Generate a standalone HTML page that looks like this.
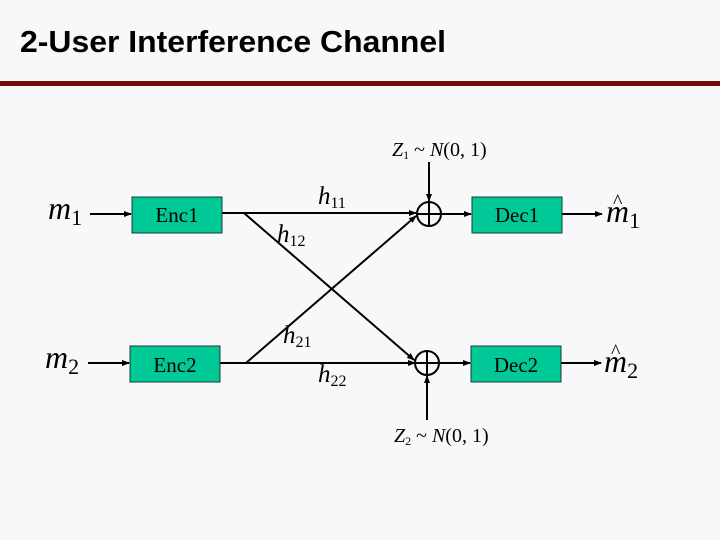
<!DOCTYPE html>
<html><head><meta charset="utf-8"><style>
html,body{margin:0;padding:0;background:#f8f8fa;}
svg{display:block;}
</style></head><body>
<svg width="720" height="540" viewBox="0 0 720 540" xmlns="http://www.w3.org/2000/svg">
<defs><marker id="a" markerWidth="8" markerHeight="8" refX="7" refY="4" orient="auto" markerUnits="userSpaceOnUse"><path d="M0,1 L8,4 L0,7 Z" fill="#000"/></marker></defs>
<rect width="720" height="540" fill="#f8f8fa"/>
<text x="20" y="52" font-family="Liberation Sans, sans-serif" font-weight="bold" font-size="31" fill="#000" textLength="426" lengthAdjust="spacingAndGlyphs">2-User Interference Channel</text>
<rect x="0" y="81" width="720" height="5" fill="#750808"/>
<g stroke="#000" stroke-width="2" fill="none">
<line x1="90" y1="214" x2="131" y2="214" marker-end="url(#a)"/>
<line x1="88" y1="363" x2="129" y2="363" marker-end="url(#a)"/>
<line x1="222" y1="213" x2="416" y2="213" marker-end="url(#a)"/>
<line x1="220" y1="363" x2="415" y2="363" marker-end="url(#a)"/>
<line x1="244" y1="213" x2="414" y2="360" marker-end="url(#a)"/>
<line x1="246" y1="363" x2="416" y2="216" marker-end="url(#a)"/>
<circle cx="429" cy="214" r="12"/>
<circle cx="427" cy="363" r="12"/>
<line x1="417" y1="214" x2="441" y2="214"/><line x1="429" y1="202" x2="429" y2="226"/>
<line x1="415" y1="363" x2="439" y2="363"/><line x1="427" y1="351" x2="427" y2="375"/>
<line x1="429" y1="162" x2="429" y2="201" marker-end="url(#a)"/>
<line x1="427" y1="420" x2="427" y2="376" marker-end="url(#a)"/>
<line x1="441" y1="214" x2="471" y2="214" marker-end="url(#a)"/>
<line x1="439" y1="363" x2="470" y2="363" marker-end="url(#a)"/>
<line x1="562" y1="214" x2="602" y2="214" marker-end="url(#a)"/>
<line x1="561" y1="363" x2="601" y2="363" marker-end="url(#a)"/>
</g>
<g fill="#00c896" stroke="#1a3a30" stroke-width="1">
<rect x="132" y="197" width="90" height="36"/>
<rect x="130" y="346" width="90" height="36"/>
<rect x="472" y="197" width="90" height="36"/>
<rect x="471" y="346" width="90" height="36"/>
</g>
<g font-family="Liberation Serif, serif" font-size="21" fill="#000" text-anchor="middle">
<text x="177" y="222">Enc1</text><text x="175" y="372">Enc2</text>
<text x="517" y="222">Dec1</text><text x="516" y="372">Dec2</text>
</g>
<g font-family="Liberation Serif, serif" font-style="italic" fill="#000">
<text x="48" y="219" font-size="32">m<tspan font-style="normal" font-size="22" dy="6">1</tspan></text>
<text x="45" y="368" font-size="32">m<tspan font-style="normal" font-size="22" dy="6">2</tspan></text>
<text x="606" y="222" font-size="32">m<tspan font-style="normal" font-size="22" dy="6">1</tspan></text>
<text x="613" y="208" font-size="20" font-style="normal">^</text>
<text x="604" y="372" font-size="32">m<tspan font-style="normal" font-size="22" dy="6">2</tspan></text>
<text x="611" y="358" font-size="20" font-style="normal">^</text>
<text x="318" y="204" font-size="25">h<tspan font-style="normal" font-size="16" dy="4">11</tspan></text>
<text x="277" y="242" font-size="25">h<tspan font-style="normal" font-size="16" dy="4">12</tspan></text>
<text x="283" y="343" font-size="25">h<tspan font-style="normal" font-size="16" dy="4">21</tspan></text>
<text x="318" y="382" font-size="25">h<tspan font-style="normal" font-size="16" dy="4">22</tspan></text>
<text x="392" y="156" font-size="20">Z<tspan font-style="normal" font-size="12" dy="3">1</tspan><tspan font-style="normal" dy="-3"> ~ </tspan>N<tspan font-style="normal">(0, 1)</tspan></text>
<text x="394" y="442" font-size="20">Z<tspan font-style="normal" font-size="12" dy="3">2</tspan><tspan font-style="normal" dy="-3"> ~ </tspan>N<tspan font-style="normal">(0, 1)</tspan></text>
</g>
</svg>
</body></html>
